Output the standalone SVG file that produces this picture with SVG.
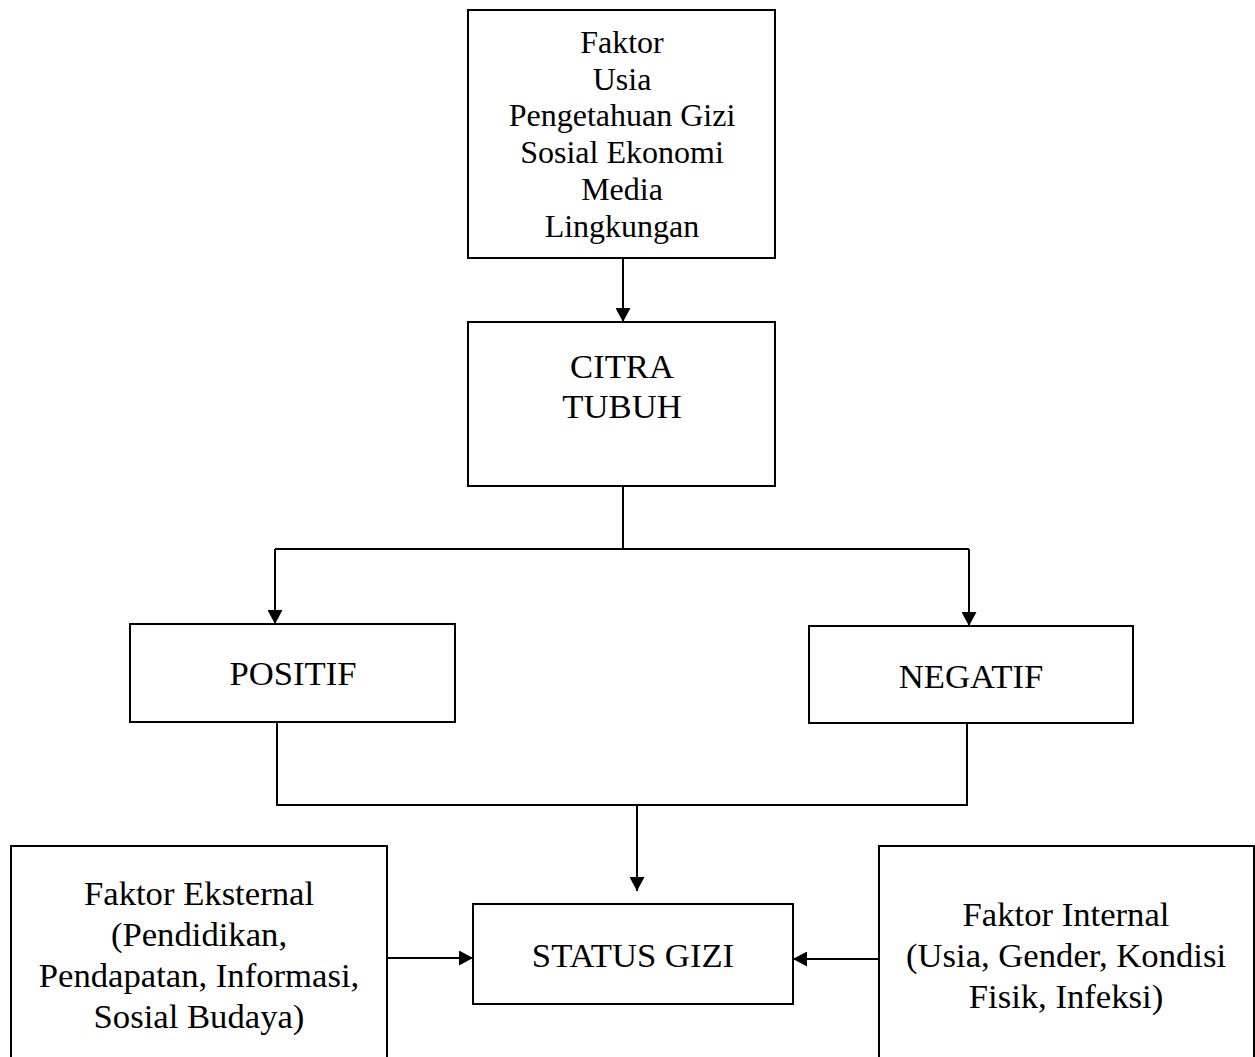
<svg xmlns="http://www.w3.org/2000/svg" width="1255" height="1057" viewBox="0 0 1255 1057">
<defs>
<marker id="arr" markerWidth="14" markerHeight="15" refX="14" refY="7.5" orient="auto" markerUnits="userSpaceOnUse">
<path d="M0,0 L14,7.5 L0,15 Z" fill="#000"/>
</marker>
<style>
.box{fill:#fff;stroke:#000;stroke-width:2}
.ln{fill:none;stroke:#000;stroke-width:2}
text{font-family:"Liberation Serif","Times New Roman",serif;fill:#000;text-anchor:middle}
.s{font-size:32px}
.m{font-size:34.67px}
</style>
</defs>
<rect width="1255" height="1057" fill="#fff"/>
<g id="connectors">
<line class="ln" x1="623" y1="258" x2="623" y2="322" marker-end="url(#arr)"/>
<polyline class="ln" points="623,486 623,549"/>
<line class="ln" x1="275" y1="549" x2="969" y2="549"/>
<line class="ln" x1="275" y1="549" x2="275" y2="624" marker-end="url(#arr)"/>
<line class="ln" x1="969" y1="549" x2="969" y2="626" marker-end="url(#arr)"/>
<polyline class="ln" points="277,722 277,805 967,805 967,723"/>
<line class="ln" x1="637" y1="805" x2="637" y2="891" marker-end="url(#arr)"/>
<line class="ln" x1="387" y1="958" x2="473" y2="958" marker-end="url(#arr)"/>
<line class="ln" x1="879" y1="959" x2="793" y2="959" marker-end="url(#arr)"/>
</g>
<g id="faktor">
<rect class="box" x="468" y="10" width="307" height="248"/>
<text class="s" x="622" y="53">Faktor</text>
<text class="s" x="622" y="90">Usia</text>
<text class="s" x="622" y="126">Pengetahuan Gizi</text>
<text class="s" x="622" y="163">Sosial Ekonomi</text>
<text class="s" x="622" y="200">Media</text>
<text class="s" x="622" y="237">Lingkungan</text>
</g>
<g id="citra">
<rect class="box" x="468" y="322" width="307" height="164"/>
<text class="m" x="622" y="378">CITRA</text>
<text class="m" x="622" y="418">TUBUH</text>
</g>
<g id="positif">
<rect class="box" x="130" y="624" width="325" height="98"/>
<text class="m" x="293" y="685">POSITIF</text>
</g>
<g id="negatif">
<rect class="box" x="809" y="626" width="324" height="97"/>
<text class="m" x="971" y="688">NEGATIF</text>
</g>
<g id="status">
<rect class="box" x="473" y="904" width="320" height="100"/>
<text class="m" x="633" y="967">STATUS GIZI</text>
</g>
<g id="eksternal">
<rect class="box" x="11" y="846" width="376" height="240"/>
<text class="m" x="199" y="905">Faktor Eksternal</text>
<text class="m" x="199" y="946">(Pendidikan,</text>
<text class="m" x="199" y="987">Pendapatan, Informasi,</text>
<text class="m" x="199" y="1028">Sosial Budaya)</text>
</g>
<g id="internal">
<rect class="box" x="879" y="846" width="375" height="240"/>
<text class="m" x="1066" y="926">Faktor Internal</text>
<text class="m" x="1066" y="967">(Usia, Gender, Kondisi</text>
<text class="m" x="1066" y="1008">Fisik, Infeksi)</text>
</g>
</svg>
